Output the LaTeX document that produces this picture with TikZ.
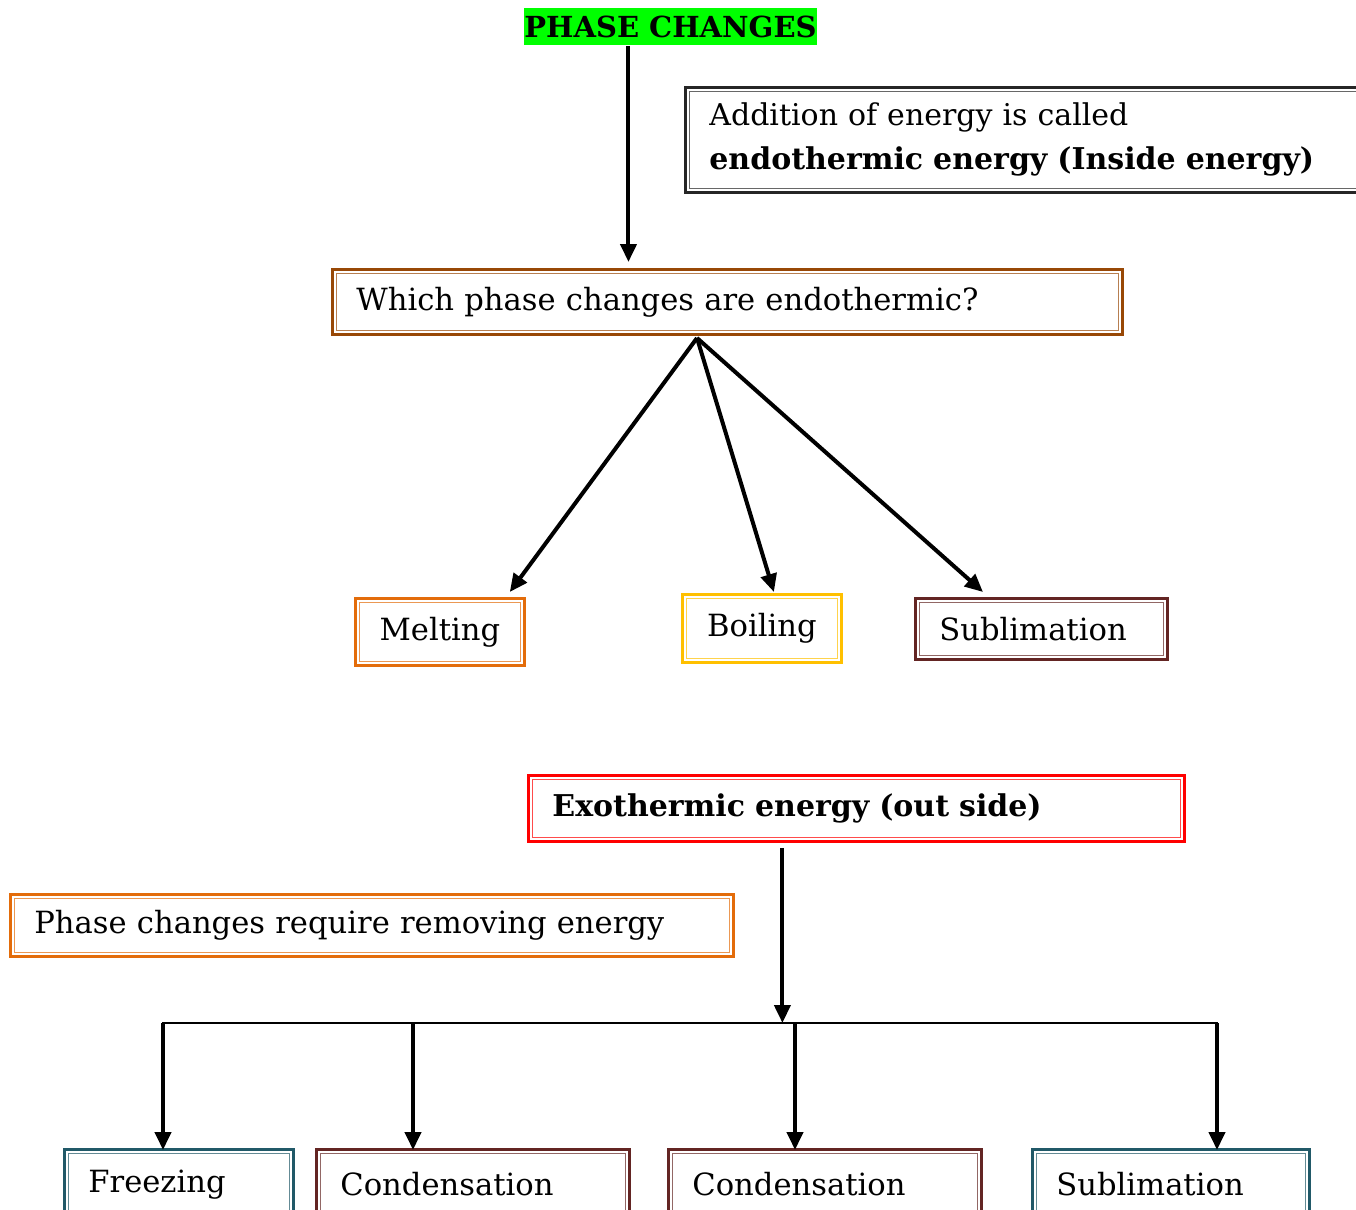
\documentclass[tikz,border=0pt]{standalone}
\usepackage{fontspec}
\setmainfont{DejaVu Serif}
\usetikzlibrary{arrows.meta}

\definecolor{grn}{HTML}{00FF00}
\definecolor{dk}{HTML}{262626}
\definecolor{brn}{HTML}{984806}
\definecolor{org}{HTML}{E36C0A}
\definecolor{gld}{HTML}{FFC000}
\definecolor{mrn}{HTML}{632523}
\definecolor{tel}{HTML}{215968}

\tikzset{
  dbox/.style={draw=#1, line width=1.4pt, fill=white, rectangle, anchor=north west,
    inner xsep=12pt, inner ysep=0pt,
    path picture={\draw[#1!70, line width=0.5pt]
      ([shift={(2.2pt,-2.2pt)}]path picture bounding box.north west) rectangle
      ([shift={(-2.2pt,2.2pt)}]path picture bounding box.south east);}},
  lt/.style={text width=#1, align=left},
  arr/.style={-{Triangle[length=9pt,width=8pt]}, line width=2pt}
}

\begin{document}
\begin{tikzpicture}
  [x=0.5pt,y=-0.5pt,every node/.style={font=\fontsize{15.3}{18}\selectfont, inner sep=0pt}]
  \useasboundingbox (0,0) rectangle (1356,1210);
  \clip (0,0) rectangle (1356,1210);
  % upper part
  \node[fill=grn, anchor=north west, minimum width=146pt, minimum height=18.5pt,
    font=\fontsize{14.5}{17}\selectfont\bfseries] (title) at (524,8) {PHASE CHANGES};
  \node[dbox=dk, lt=320pt, minimum height=52.5pt, font=\fontsize{15}{22}\selectfont]
    (addbox) at (684,86) {Addition of energy is called\\ \textbf{endothermic energy (Inside energy)}};
  \node[dbox=brn, lt=371pt, minimum height=32.5pt] (which) at (331,268)
    {Which phase changes are endothermic?};
  \node[dbox=org, minimum width=84.5pt, minimum height=33.5pt] (melt) at (354,597) {Melting};
  \node[dbox=gld, minimum width=79.5pt, minimum height=34pt] (boil) at (681,593) {Boiling};
  \node[dbox=mrn, lt=102pt, minimum height=30.5pt] (subl) at (914,597) {Sublimation};
  \coordinate (wsplit) at (697,338);
  \draw[arr] ([xshift=-21pt]title.south) -- ([xshift=-21pt,yshift=3pt]title.south |- which.north);
  \draw[arr] (wsplit) -- ([xshift=-8pt,yshift=2.5pt]melt.north east);
  \draw[arr] (wsplit) -- ([xshift=6pt,yshift=0.5pt]boil.north);
  \draw[arr] (wsplit) -- ([xshift=34.5pt,yshift=2.5pt]subl.north west);
  % lower part
  \node[dbox=red, lt=304pt, minimum height=33pt, font=\fontsize{15}{18}\selectfont\bfseries]
    (exo) at (527,774) {Exothermic energy (out side)};
  \node[dbox=org, lt=337.5pt, minimum height=31pt] (req) at (9,893)
    {Phase changes require removing energy};
  \node[dbox=tel, lt=90.5pt, minimum height=35pt] (freeze) at (63,1148) {Freezing};
  \node[dbox=mrn, lt=132.5pt, minimum height=35pt] (cond1) at (315,1148) {Condensation};
  \node[dbox=mrn, lt=132.5pt, minimum height=35pt] (cond2) at (667,1148) {Condensation};
  \node[dbox=tel, lt=114.5pt, minimum height=35pt] (subl2) at (1031,1148) {Sublimation};
  \coordinate (barL) at (162,1023);
  \coordinate (barR) at (1218,1023);
  \draw[line width=1pt] (barL) -- (barR);
  \draw[arr] ([xshift=-37pt,yshift=-2.5pt]exo.south) -- ([xshift=-37pt]exo.south |- barL);
  \foreach \n/\dx in {freeze/50, cond1/49, cond2/64, subl2/93}{
    \coordinate (\n-t) at ([xshift=\dx pt,yshift=-1pt]\n.north west);
    \draw[arr] (\n-t |- barL) -- (\n-t);
  }
\end{tikzpicture}
\end{document}
